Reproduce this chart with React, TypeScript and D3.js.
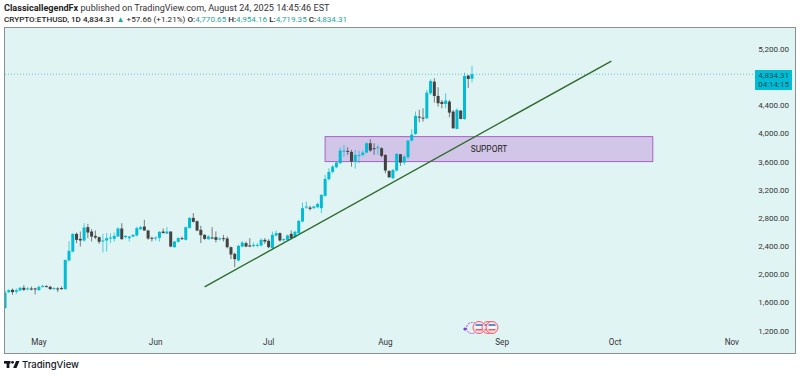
import React from "react";
import * as d3 from "d3";

const firstDay = new Date(2025, 3, 22);
const opens = [1511,1738,1771,1743,1762,1800,1781,1790,1790,1766,1814,1823,1814,1781,1790,1795,1781,2188,2315,2566,2495,2472,2661,2599,2538,2519,2462,2472,2505,2495,2528,2642,2519,2505,2528,2543,2632,2670,2614,2509,2500,2509,2599,2570,2599,2377,2453,2505,2481,2651,2793,2746,2623,2552,2491,2514,2519,2491,2505,2500,2377,2282,2188,2386,2434,2401,2396,2396,2401,2481,2467,2363,2543,2576,2476,2481,2566,2519,2576,2742,2940,2940,2931,2945,2931,3106,3343,3447,3513,3570,3735,3745,3731,3593,3674,3688,3721,3854,3783,3787,3783,3688,3461,3357,3466,3697,3579,3655,3891,3986,4232,4218,4209,4564,4729,4526,4441,4412,4445,4303,4057,4317,4199,4815,4770.65];
const highs = [1771,1781,1790,1790,1809,1837,1809,1818,1800,1828,1842,1837,1828,1809,1809,1818,1790,2462,2576,2585,2599,2718,2708,2632,2613,2528,2566,2576,2576,2585,2661,2718,2547,2538,2561,2670,2680,2765,2623,2528,2528,2604,2642,2661,2604,2466,2519,2528,2670,2803,2860,2756,2680,2561,2547,2661,2599,2519,2552,2528,2386,2301,2410,2462,2457,2505,2443,2434,2505,2505,2491,2599,2614,2585,2505,2557,2614,2614,2765,3011,3025,2964,2969,3011,3130,3404,3499,3546,3593,3797,3830,3797,3759,3759,3750,3750,3868,3910,3854,3830,3797,3697,3466,3485,3712,3702,3688,3901,4053,4303,4327,4351,4611,4762,4777,4649,4469,4564,4469,4327,4351,4327,4857,4824,4954.16];
const lows = [1500,1724,1700,1714,1752,1752,1762,1762,1705,1757,1800,1809,1771,1771,1738,1771,1771,2173,2301,2434,2386,2457,2505,2457,2491,2424,2301,2315,2434,2457,2519,2481,2500,2457,2519,2528,2623,2614,2481,2457,2472,2457,2576,2570,2376,2367,2443,2481,2472,2642,2727,2604,2434,2481,2481,2491,2443,2472,2457,2358,2207,2093,2173,2377,2377,2377,2377,2377,2387,2424,2363,2353,2529,2457,2457,2472,2491,2505,2566,2727,2921,2898,2921,2931,2860,3096,3324,3428,3499,3560,3664,3688,3522,3494,3570,3664,3712,3731,3688,3688,3655,3428,3357,3343,3451,3532,3546,3626,3877,3972,4152,4161,4195,4540,4431,4374,4351,4351,4223,4057,4053,4195,4185,4639,4719.35];
const closes = [1733,1766,1738,1766,1800,1771,1790,1785,1781,1814,1828,1818,1781,1795,1785,1785,2197,2325,2566,2481,2472,2656,2585,2528,2514,2453,2472,2505,2514,2538,2642,2491,2538,2528,2552,2647,2661,2614,2500,2500,2514,2595,2576,2599,2386,2457,2505,2491,2661,2793,2737,2614,2547,2495,2528,2500,2481,2500,2491,2377,2273,2207,2396,2443,2386,2386,2410,2410,2481,2457,2377,2552,2576,2472,2491,2543,2505,2595,2751,2931,2954,2921,2954,2992,3120,3347,3447,3522,3579,3750,3750,3735,3593,3688,3688,3721,3854,3750,3773,3797,3674,3466,3371,3475,3702,3579,3664,3891,3977,4242,4218,4204,4573,4739,4526,4422,4412,4460,4289,4067,4327,4199,4810,4767,4834.31];

const priceTicks = [5200, 4400, 4000, 3600, 3200, 2800, 2400, 2000, 1600, 1200];
const monthTicks = [
  { label: "May", date: new Date(2025, 4, 1) },
  { label: "Jun", date: new Date(2025, 5, 1) },
  { label: "Jul", date: new Date(2025, 6, 1) },
  { label: "Aug", date: new Date(2025, 7, 1) },
  { label: "Sep", date: new Date(2025, 8, 1) },
  { label: "Oct", date: new Date(2025, 9, 1) },
  { label: "Nov", date: new Date(2025, 10, 1) },
];
const lastPrice = 4834.31;
const trendDates = [new Date(2025, 5, 14), new Date(2025, 8, 30)];
const trendPrices = [1813, 5022];
const zoneDates = [new Date(2025, 6, 16), new Date(2025, 9, 11)];
const zonePrices = [3948, 3593];

const UP = "#00BCD4";
const DOWN = "#424242";
const BG = "#E1F4F4";
const FONT = "Roboto, 'Liberation Sans', Arial, sans-serif";

const x = d3.scaleTime().domain([firstDay, d3.timeDay.offset(firstDay, 124)]).range([5, 472]);
const y = d3.scaleLinear().domain([1200, 5200]).range([330, 48.5]);
const fmt = d3.format(",.2f");

function Flag({ cx, cy }: { cx: number; cy: number }) {
  return (
    <g>
      <circle cx={cx} cy={cy} r={6} fill="#FBE4E6" stroke="#EF5A6F" strokeWidth={1} />
      <rect x={cx - 3.5} y={cy - 3.5} width={7} height={2} fill="#5C8FD6" />
      <rect x={cx - 3.5} y={cy - 1} width={7} height={2} fill="#FFFFFF" />
      <rect x={cx - 3.5} y={cy + 1.5} width={7} height={1.5} fill="#EF5A6F" />
    </g>
  );
}

export default function App() {
  const line = d3.line<number>()
    .x((_, i) => x(trendDates[i]))
    .y((d) => y(d));
  const zoneX = x(zoneDates[0]);
  const zoneW = x(zoneDates[1]) - zoneX;
  const zoneY = y(zonePrices[0]);
  const zoneH = y(zonePrices[1]) - zoneY;
  return (
    <svg width={800} height={376} style={{ position: "absolute", left: 0, top: 0 }} fontFamily={FONT}>
      <rect width={800} height={376} fill="#FFFFFF" />
      <text x={4} y={11} fontSize={9.1} fill="#333">
        <tspan fontWeight="700" fill="#222">ClassicallegendFx</tspan> published on TradingView.com, August 24, 2025 14:45:46 EST
      </text>
      <text x={4} y={22} fontSize={8.1} fill="#222">
        <tspan fontWeight="500">CRYPTO:ETHUSD, 1D 4,834.31 </tspan>
        <tspan fill="#26A69A">▲</tspan>
        <tspan> +57.66 (+1.21%) </tspan>
        <tspan fontWeight="500">O:</tspan>
        <tspan fill="#26A69A">4,770.65</tspan>
        <tspan fontWeight="500"> H:</tspan>
        <tspan fill="#26A69A">4,954.16</tspan>
        <tspan fontWeight="500"> L:</tspan>
        <tspan fill="#26A69A">4,719.35</tspan>
        <tspan fontWeight="500"> C:</tspan>
        <tspan fill="#26A69A">4,834.31</tspan>
      </text>

      <rect x={4.5} y={27.5} width={791} height={326} fill={BG} stroke="#8A8F8F" strokeWidth={1} />

      <line x1={5} x2={755} y1={y(lastPrice)} y2={y(lastPrice)} stroke="#26B8C4" strokeWidth={1} strokeDasharray="1 2" opacity={0.7} />

      <rect x={zoneX} y={zoneY} width={zoneW} height={zoneH} fill="#D2C6E8" stroke="#AB5FC4" strokeWidth={1} />
      <text x={zoneX + zoneW / 2} y={zoneY + zoneH / 2 + 3} textAnchor="middle" fontSize={8.4} fill="#222">SUPPORT</text>

      <defs>
        <clipPath id="plot"><rect x={5} y={28} width={790} height={325} /></clipPath>
      </defs>
      <g clipPath="url(#plot)">
        {opens.map((o, i) => {
          const c = closes[i];
          const cx = x(d3.timeDay.offset(firstDay, i));
          const col = c >= o ? UP : DOWN;
          const top = y(Math.max(o, c));
          const h = Math.max(1, y(Math.min(o, c)) - top);
          return (
            <g key={i}>
              <line x1={cx} x2={cx} y1={y(highs[i])} y2={y(lows[i])} stroke={col} strokeWidth={0.9} opacity={0.75} />
              <rect x={cx - 1.5} y={top} width={3} height={h} fill={col} />
            </g>
          );
        })}
      </g>

      <path d={line(trendPrices) ?? ""} fill="none" stroke="#2E6B2E" strokeWidth={1.4} />

      {priceTicks.map((p) => (
        <text key={p} x={789} y={y(p) + 3.5} textAnchor="end" fontSize={8} fill="#333">{fmt(p)}</text>
      ))}
      <rect x={755} y={70} width={37} height={20} fill={UP} />
      <text x={789} y={78} textAnchor="end" fontSize={8} fill="#0B4F5A">{fmt(lastPrice)}</text>
      <text x={789} y={87} textAnchor="end" fontSize={8} fill="#0B4F5A">04:14:15</text>

      {monthTicks.map((m) => (
        <text key={m.label} x={x(m.date)} y={345} textAnchor="middle" fontSize={8.2} fill="#333">{m.label}</text>
      ))}

      <g>
        <circle cx={472} cy={328} r={5.5} fill="none" stroke="#A64DD0" strokeWidth={1} strokeDasharray="2 1" />
        <circle cx={465} cy={329} r={1.6} fill="#7B3FE0" />
        <Flag cx={479} cy={327.5} />
        <Flag cx={488} cy={327.5} />
        <Flag cx={492} cy={327.5} />
      </g>

      <g fill="#131722">
        <rect x={4} y={361} width={6.5} height={2.6} />
        <rect x={6.6} y={361} width={2.8} height={7} />
        <circle cx={12.5} cy={362.3} r={1.4} />
        <path d="M16 361 H19.5 L16.5 368 H13.2 Z" />
      </g>
      <text x={22} y={368} fontSize={9.5} fontWeight="500" fontFamily="Inter, Roboto, sans-serif" fill="#131722">TradingView</text>
    </svg>
  );
}
